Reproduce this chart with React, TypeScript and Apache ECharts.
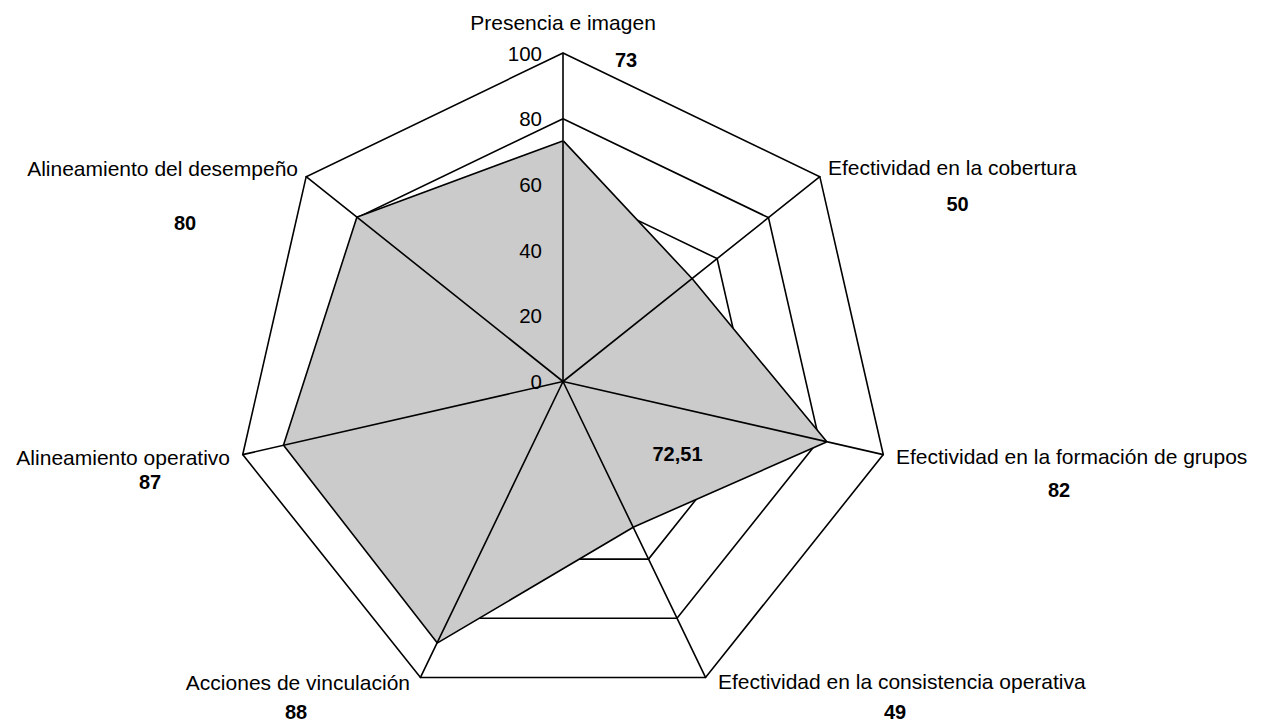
import React, { useEffect, useRef } from "react";
import * as echarts from "echarts";

// Categories in clockwise order starting at the top
const categories = [
  "Presencia e imagen",
  "Efectividad en la cobertura",
  "Efectividad en la formación de grupos",
  "Efectividad en la consistencia operativa",
  "Acciones de vinculación",
  "Alineamiento operativo",
  "Alineamiento del desempeño",
];
const values = [73, 50, 82, 49, 88, 87, 80];
const averageLabel = "72,51";
const axisMin = 0;
const axisMax = 100;
const splitCount = 5;

// Layout of texts (separate from data)
const nameLayout = [
  { x: 563, y: 22.5, align: "center" },
  { x: 828, y: 167.5, align: "left" },
  { x: 896, y: 456, align: "left" },
  { x: 718, y: 681, align: "left" },
  { x: 410, y: 682.5, align: "right" },
  { x: 230, y: 457, align: "right" },
  { x: 298, y: 168, align: "right" },
];
const valueLayout = [
  { x: 626, y: 60 },
  { x: 957.5, y: 204 },
  { x: 1059, y: 490 },
  { x: 895, y: 712 },
  { x: 296, y: 712 },
  { x: 150, y: 481.5 },
  { x: 185, y: 222.5 },
];
const averageLayout = { x: 677.5, y: 453.5 };

const FONT = "'Liberation Sans', Arial, Helvetica, sans-serif";

export default function App() {
  const ref = useRef<HTMLDivElement>(null);

  useEffect(() => {
    if (!ref.current) return;
    const chart = echarts.init(ref.current, undefined, { renderer: "svg" });

    // ECharts lays radar indicators counter-clockwise; reorder so they appear clockwise
    const order = categories.map((_, i) => (i === 0 ? 0 : categories.length - i));

    const baseIndicators = order.map((i) => ({
      name: categories[i],
      min: axisMin,
      max: axisMax,
    }));
    const overlayIndicators = order.map((i, k) => ({
      name: categories[i],
      min: axisMin,
      max: axisMax,
      axisLabel:
        k === 0
          ? {
              show: true,
              margin: 21,
              color: "#000",
              fontSize: 20.5,
              fontFamily: FONT,
            }
          : { show: false },
    }));

    const common = {
      center: [563, 381.5],
      radius: 328.5,
      startAngle: 90,
      splitNumber: splitCount,
      shape: "polygon",
    };

    const graphics: any[] = [];
    categories.forEach((name, i) => {
      const l = nameLayout[i];
      graphics.push({
        type: "text",
        x: l.x,
        y: l.y,
        silent: true,
        style: {
          text: name,
          fill: "#000",
          fontSize: 21,
          fontFamily: FONT,
          align: l.align,
          textAlign: l.align,
          verticalAlign: "middle",
          textVerticalAlign: "middle",
        },
      });
      const v = valueLayout[i];
      graphics.push({
        type: "text",
        x: v.x,
        y: v.y,
        silent: true,
        style: {
          text: String(values[i]),
          fill: "#000",
          fontSize: 20,
          fontWeight: "bold",
          fontFamily: FONT,
          align: "center",
          textAlign: "center",
          verticalAlign: "middle",
          textVerticalAlign: "middle",
        },
      });
    });
    graphics.push({
      type: "text",
      x: averageLayout.x,
      y: averageLayout.y,
      silent: true,
      z: 10,
      style: {
        text: averageLabel,
        fill: "#000",
        fontSize: 20,
        fontWeight: "bold",
        fontFamily: FONT,
        align: "center",
        textAlign: "center",
        verticalAlign: "middle",
        textVerticalAlign: "middle",
      },
    });

    chart.setOption({
      animation: false,
      backgroundColor: "#fff",
      textStyle: { fontFamily: FONT },
      radar: [
        {
          ...common,
          z: 1,
          indicator: baseIndicators,
          axisName: { show: false },
          axisLine: { show: false },
          axisTick: { show: false },
          axisLabel: { show: false },
          splitLine: { show: true, lineStyle: { color: "#000", width: 1.6 } },
          splitArea: { show: false },
        },
        {
          ...common,
          z: 3,
          indicator: overlayIndicators,
          axisName: { show: false },
          axisLine: { show: true, lineStyle: { color: "#000", width: 1.6 } },
          axisTick: { show: false },
          axisLabel: { show: false },
          splitLine: { show: false },
          splitArea: { show: false },
        },
      ],
      series: [
        {
          type: "radar",
          radarIndex: 0,
          z: 2,
          silent: true,
          symbol: "none",
          lineStyle: { color: "#000", width: 3.2 },
          areaStyle: { color: "#cbcbcb", opacity: 1 },
          data: [{ value: order.map((i) => values[i]), name: "Valor" }],
        },
      ],
      graphic: { elements: graphics },
    });

    return () => chart.dispose();
  }, []);

  return (
    <div
      ref={ref}
      style={{
        position: "absolute",
        left: 0,
        top: 0,
        width: 1261,
        height: 723,
        background: "#fff",
      }}
    />
  );
}
